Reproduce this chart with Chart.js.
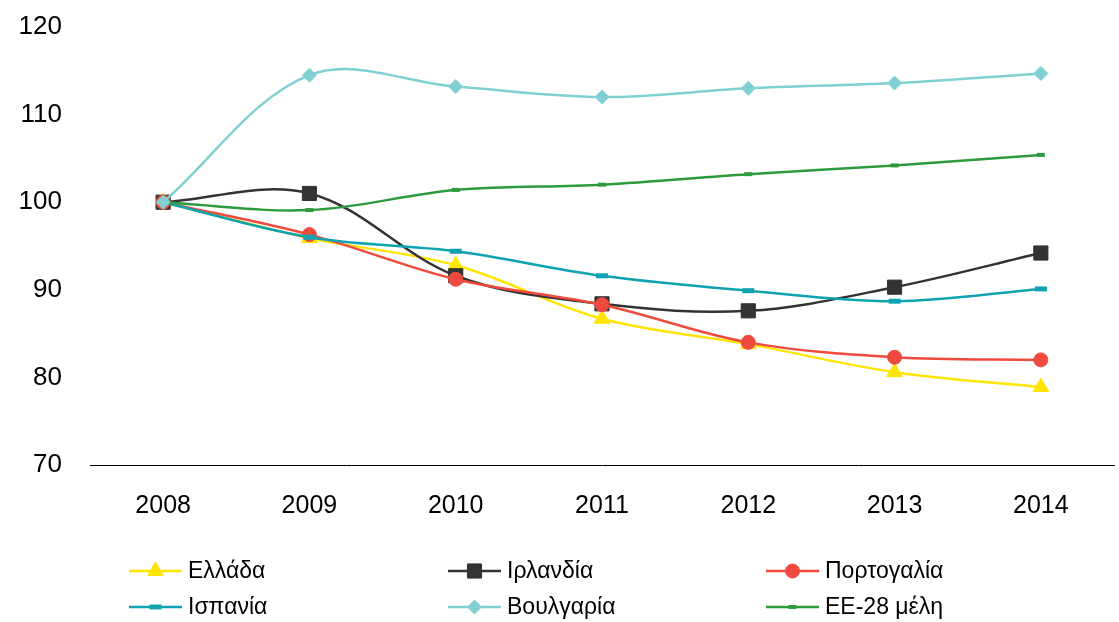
<!DOCTYPE html>
<html>
<head>
<meta charset="utf-8">
<script src="https://cdn.jsdelivr.net/npm/chart.js@4.4.1/dist/chart.umd.min.js"></script>
<style>
  html, body { margin: 0; padding: 0; background: #fff; overflow: hidden; }
  #wrap { width: 1119px; height: 622px; position: relative; }
  canvas { display: block; }
</style>
</head>
<body>
<div id="wrap"><canvas id="Chart"></canvas></div>
<script>
const years = ['2008', '2009', '2010', '2011', '2012', '2013', '2014'];

const ellada     = [100, 95.9, 92.8, 86.7, 83.8, 80.6, 78.9];
const irlandia   = [100, 101.0, 91.6, 88.4, 87.6, 90.3, 94.2];
const portogalia = [100, 96.3, 91.2, 88.3, 84.0, 82.3, 82.0];
const ispania    = [100, 96.0, 94.4, 91.6, 89.9, 88.7, 90.1];
const voulgaria  = [100, 114.5, 113.2, 112.0, 113.0, 113.6, 114.7];
const ee28       = [100, 99.1, 101.4, 102.0, 103.2, 104.2, 105.4];

const yTicks = [70, 80, 90, 100, 110, 120];

function series(label, data, color, style, radius, pbw, order) {
    return {
        label: label,
        data: data,
        order: order,
        borderColor: color,
        backgroundColor: color,
        borderWidth: 2.5,
        tension: 0.35,
        clip: false,
        pointStyle: style,
        pointRadius: radius,
        pointHoverRadius: radius,
        pointBackgroundColor: color,
        pointBorderColor: color,
        pointBorderWidth: pbw
    };
}

// legend in a 3 column grid under the plot
const gridLegend = {
    id: 'gridLegend',
    afterDraw(chart) {
        const ctx = chart.ctx;
        const cols = [129, 448, 766];
        const rows = [571, 607];
        chart.data.datasets.forEach((ds, i) => {
            const x = cols[i % 3];
            const y = rows[Math.floor(i / 3)];
            ctx.save();
            ctx.strokeStyle = ds.borderColor;
            ctx.fillStyle = ds.borderColor;
            ctx.lineWidth = 2.5;
            ctx.beginPath();
            ctx.moveTo(x, y);
            ctx.lineTo(x + 53, y);
            ctx.stroke();
            ctx.lineWidth = ds.pointBorderWidth;
            Chart.helpers.drawPoint(ctx, {
                pointStyle: ds.pointStyle,
                radius: ds.pointRadius,
                borderWidth: ds.pointBorderWidth,
                rotation: 0
            }, x + 26.5, y);
            ctx.fillStyle = '#000';
            ctx.font = '23px "Liberation Sans", Arial, sans-serif';
            ctx.textBaseline = 'middle';
            ctx.textAlign = 'left';
            ctx.fillText(ds.label, x + 59, y + 1);
            ctx.restore();
        });
    }
};

function main() {
    Chart.defaults.font.family = '"Liberation Sans", Arial, sans-serif';
    Chart.defaults.color = '#000';

    const ctx = document.getElementById('Chart');
    new Chart(ctx, {
        type: 'line',
        data: {
            labels: years,
            datasets: [
                series('Ελλάδα', ellada, '#FFE500', 'triangle', 9, 1, 6),
                series('Ιρλανδία', irlandia, '#333333', 'rect', 10, 1, 5),
                series('Πορτογαλία', portogalia, '#EE4B3E', 'circle', 7, 1, 4),
                series('Ισπανία', ispania, '#0FA3B1', 'line', 6, 5, 3),
                series('Βουλγαρία', voulgaria, '#80D0D3', 'rectRot', 7, 1, 1),
                series('ΕΕ-28 μέλη', ee28, '#2E9A3E', 'line', 4, 4, 2)
            ]
        },
        options: {
            responsive: true,
            maintainAspectRatio: false,
            animation: false,
            layout: { autoPadding: false, padding: { top: 27, right: 5, bottom: 97, left: 0 } },
            plugins: {
                legend: { display: false },
                tooltip: { enabled: false }
            },
            scales: {
                x: {
                    offset: true,
                    grid: { display: false },
                    border: { display: true, color: '#000', width: 1 },
                    ticks: { font: { size: 25 }, padding: 18 },
                    afterFit: (s) => { s.height = 60; s.paddingLeft = 0; s.paddingRight = 0; }
                },
                y: {
                    min: 70,
                    max: 120,
                    afterBuildTicks: (s) => { s.ticks = yTicks.map(v => ({ value: v })); },
                    grid: { display: false },
                    border: { display: false },
                    ticks: { font: { size: 26 }, padding: 20 },
                    afterFit: (s) => { s.width = 90; s.paddingTop = 0; s.paddingBottom = 0; }
                }
            }
        },
        plugins: [gridLegend]
    });
}

main();
</script>
</body>
</html>
